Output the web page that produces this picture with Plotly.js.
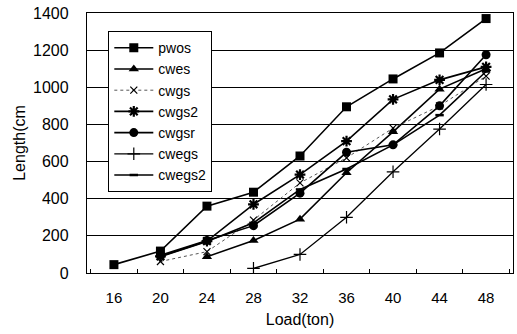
<!DOCTYPE html>
<html>
<head>
<meta charset="utf-8">
<script src="https://cdn.plot.ly/plotly-3.0.1.min.js"></script>
<style>
  html, body { margin: 0; padding: 0; background: #fff; }
  #chart { width: 517px; height: 334px; }
</style>
</head>
<body>
<div id="chart"></div>
<script>
// Categories (Load in ton)
const loads = ['16', '20', '24', '28', '32', '36', '40', '44', '48'];

// Series values (Length in cm)
const pwos   = [45, 118, 360, 435, 630, 895, 1045, 1185, 1370];
const cwes   = [null, null, 88, 175, 290, 540, 760, 990, 1100];
const cwgs   = [null, 62, 115, 285, 485, 620, 780, 900, 1060];
const cwgs2  = [null, 90, 172, 370, 530, 710, 935, 1040, 1110];
const cwgsr  = [null, 95, 175, 255, 430, 650, 690, 900, 1175];
const cwegs  = [null, null, null, 25, 100, 300, 545, 775, 1015];
const cwegs2 = [null, 88, 170, 270, 450, 560, 690, 850, 1085];

const black = '#000000';
const font = 'Liberation Sans, Arial, sans-serif';

function tr(name, y, sym, size, lineOpts, markerLine) {
  return {
    type: 'scatter', mode: 'lines+markers', name: name,
    x: loads, y: y,
    line: Object.assign({ color: black, width: 1.6 }, lineOpts || {}),
    marker: Object.assign({ symbol: sym, size: size, color: black },
                          markerLine ? { line: markerLine } : {}),
    connectgaps: false
  };
}

const data = [
  tr('pwos', pwos, 'square', 9),
  tr('cwes', cwes, 'triangle-up', 9),
  tr('cwgs', cwgs, 'x-thin-open', 7, { color: '#555555', width: 1, dash: 'dot' }, { color: black, width: 1.2 }),
  tr('cwgs2', cwgs2, 'asterisk-open', 9, {}, { color: black, width: 2.2 }),
  tr('cwgsr', cwgsr, 'circle', 9),
  tr('cwegs', cwegs, 'cross-thin-open', 9, { width: 1.3 }, { color: black, width: 1.2 }),
  tr('cwegs2', cwegs2, 'line-ew-open', 6, {}, { color: black, width: 2.5 })
];

const layout = {
  width: 517, height: 334,
  margin: { l: 87, r: 4, t: 13, b: 61 },
  paper_bgcolor: '#fff', plot_bgcolor: '#fff',
  font: { family: font, color: black, size: 15 },
  showlegend: true,
  legend: {
    x: 0.05, y: 0.93, xanchor: 'left', yanchor: 'top',
    bordercolor: black, borderwidth: 1, bgcolor: '#fff',
    font: { family: font, size: 14, color: black },
    tracegroupgap: 0, itemwidth: 39
  },
  xaxis: {
    type: 'category',
    categoryorder: 'array', categoryarray: loads,
    tickson: 'boundaries', ticks: 'inside', ticklen: 4, tickcolor: black,
    showline: true, linecolor: black, linewidth: 1.2, mirror: true,
    showgrid: false, zeroline: false,
    tickfont: { family: font, size: 15, color: black },
    ticklabelstandoff: 11,
    title: { text: 'Load(ton)', font: { family: font, size: 16, color: black }, standoff: 8 }
  },
  yaxis: {
    range: [0, 1400], dtick: 200, tick0: 0,
    showgrid: true, gridcolor: black, gridwidth: 1,
    showline: true, linecolor: black, linewidth: 1.2, mirror: true,
    zeroline: false, ticks: '',
    tickfont: { family: font, size: 16, color: black },
    ticklabelstandoff: 14,
    title: { text: 'Length(cm', font: { family: font, size: 16, color: black }, standoff: 3 }
  }
};

Plotly.newPlot('chart', data, layout, { displayModeBar: false, staticPlot: true });
</script>
</body>
</html>
